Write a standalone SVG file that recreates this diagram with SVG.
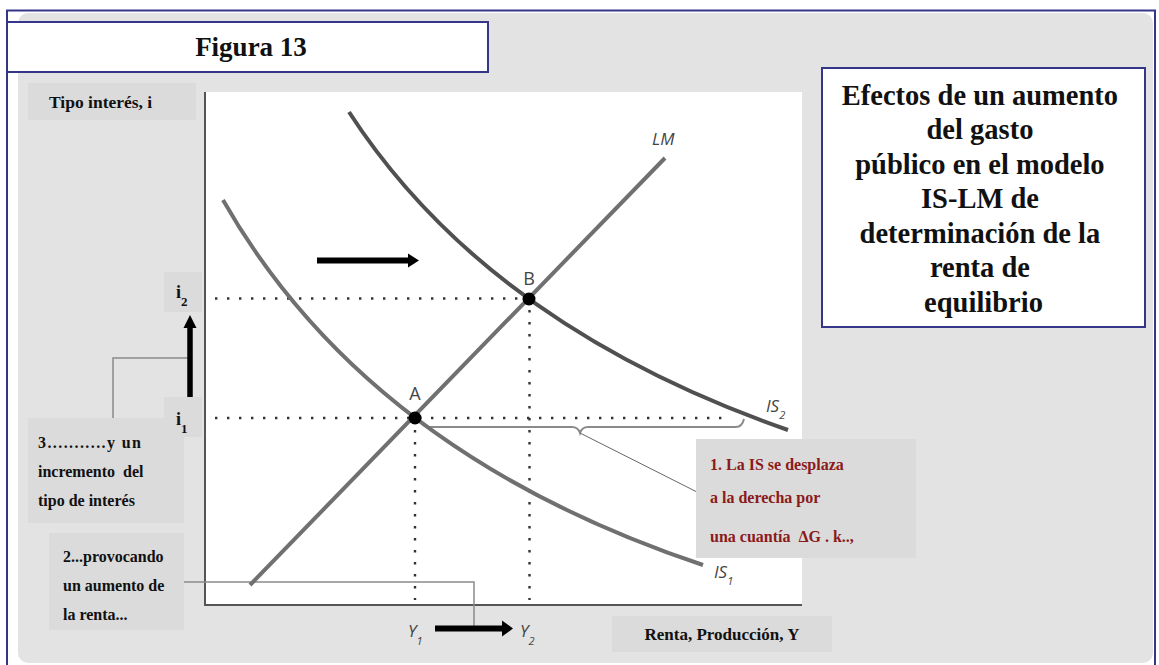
<svg xmlns="http://www.w3.org/2000/svg" width="1159" height="665" viewBox="0 0 1159 665">
<defs>
<style>
.serif{font-family:"Liberation Serif","Times New Roman",serif;font-weight:bold;fill:#111}
.lbl{font-size:16px}
.red{font-family:"Liberation Serif","Times New Roman",serif;font-weight:bold;font-size:16px;fill:#8b1a1a}
.sans{font-family:"Open Sans","Liberation Sans",sans-serif;fill:#444}
.it{font-style:italic}
.box{fill:#dbdbdb}
.curve{fill:none;stroke-width:4;stroke-linecap:butt}
.dot{fill:none;stroke:#333;stroke-width:2.4;stroke-dasharray:2.4 9.6}
.lead{fill:none;stroke:#8a8a8a;stroke-width:1.5}
</style>
</defs>
<rect x="0" y="0" width="1159" height="665" fill="#ffffff"/>
<rect x="18" y="13" width="1135" height="650" rx="10" fill="#e3e3e3"/>
<path d="M7,665 V10.5 H1155 V665" fill="none" stroke="#35358a" stroke-width="2"/>

<g id="title">
<rect x="7" y="22" width="481" height="50" fill="#ffffff" stroke="#35358a" stroke-width="2"/>
<text class="serif" x="251" y="56" font-size="27" text-anchor="middle">Figura 13</text>
</g>

<g id="yaxis-label">
<rect class="box" x="28" y="83" width="168" height="37"/>
<text class="serif" x="49" y="108" font-size="17.5">Tipo interés, i</text>
</g>

<g id="plot">
<rect x="205" y="92" width="597" height="513" fill="#ffffff"/>
<path d="M205,92 V605 H802" fill="none" stroke="#555" stroke-width="2"/>
</g>

<g id="heading">
<rect x="822" y="68" width="323" height="259" fill="#ffffff" stroke="#35358a" stroke-width="2"/>
<text class="serif" font-size="28.5" text-anchor="middle">
<tspan x="983.5" y="105">Efectos de un aumento</tspan>
<tspan x="983.5" y="139">del gasto</tspan>
<tspan x="983.5" y="174">público en el modelo</tspan>
<tspan x="983.5" y="208">IS-LM de</tspan>
<tspan x="983.5" y="243">determinación de la</tspan>
<tspan x="983.5" y="277">renta de</tspan>
<tspan x="983.5" y="312">equilibrio</tspan>
</text>
</g>

<g id="note-3">
<rect class="box" x="28" y="418" width="156" height="105"/>
<text class="serif lbl" xml:space="preserve"><tspan x="38" y="448" textLength="103" lengthAdjust="spacing">3...........y un</tspan><tspan x="38" y="477">incremento  del</tspan><tspan x="38" y="506">tipo de interés</tspan></text>
</g>

<g id="note-2">
<rect class="box" x="49" y="533" width="135" height="97"/>
<text class="serif lbl"><tspan x="63" y="562">2...provocando</tspan><tspan x="63" y="591">un aumento de</tspan><tspan x="63" y="620">la renta...</tspan></text>
</g>

<g id="i2">
<rect class="box" x="164" y="272" width="38" height="40"/>
<text class="serif" x="176" y="298" font-size="18">i<tspan font-size="13" dy="8">2</tspan></text>
</g>
<g id="i1">
<rect class="box" x="164" y="397" width="38" height="40"/>
<text class="serif" x="176" y="425" font-size="18">i<tspan font-size="13" dy="8">1</tspan></text>
</g>

<g id="connectors">
<path class="dot" d="M215,298.5 H522"/>
<path class="dot" d="M215,418 H730"/>
<path class="dot" d="M415,430 V600"/>
<path class="dot" d="M529.5,310 V600"/>
<path d="M420,420 Q422,427 430,427 H572 Q578,427 580,433 Q582,427 588,427 H736 Q742,427 744,419" fill="none" stroke="#8a8a8a" stroke-width="2"/>
<path d="M580,433 L697,492" fill="none" stroke="#666" stroke-width="1"/>
<path class="lead" d="M113,418 V358 H188"/>
<path class="lead" d="M184,582 H474 V626"/>
</g>

<g id="curves">
<path class="curve" stroke="#707070" d="M250,585 L665,158"/>
<path class="curve" stroke="#707070" d="M223,200 Q367,453 703,565"/>
<path class="curve" stroke="#505050" d="M349,112 Q487,325 788,430"/>
</g>

<g id="point-A">
<circle cx="415" cy="418" r="6.5" fill="#000"/>
<text class="sans" x="415" y="400" font-size="18" text-anchor="middle">A</text>
</g>
<g id="point-B">
<circle cx="529" cy="299" r="6.5" fill="#000"/>
<text class="sans" x="529" y="285" font-size="18" text-anchor="middle">B</text>
</g>

<g id="curve-labels">
<text class="sans it" x="652" y="145" font-size="17">LM</text>
<text class="sans it" x="766" y="412" font-size="17">IS<tspan font-size="11" dy="7">2</tspan></text>
<text class="sans it" x="714" y="578" font-size="17">IS<tspan font-size="11" dy="7">1</tspan></text>
<text class="sans it" x="408" y="637" font-size="17">Y<tspan font-size="11" dy="8">1</tspan></text>
<text class="sans it" x="520" y="637" font-size="17">Y<tspan font-size="11" dy="8">2</tspan></text>
</g>

<g id="arrows">
<path d="M317,260.5 H409" stroke="#000" stroke-width="6" fill="none"/>
<path d="M408,253.5 L419,260.5 L408,267.5 Z" fill="#000"/>
<path d="M190,397 V327" stroke="#000" stroke-width="5.5" fill="none"/>
<path d="M183.5,328 L190,315 L196.5,328 Z" fill="#000"/>
<path d="M435,628.5 H503" stroke="#000" stroke-width="6" fill="none"/>
<path d="M502,620.5 L513,628.5 L502,636.5 Z" fill="#000"/>
</g>

<g id="note-1">
<rect class="box" x="696" y="439" width="220" height="119"/>
<text class="red" xml:space="preserve"><tspan x="710" y="470">1. La IS se desplaza</tspan><tspan x="710" y="503">a la derecha por</tspan><tspan x="710" y="542">una cuantía  ΔG . k..,</tspan></text>
</g>

<g id="xaxis-label">
<rect class="box" x="612" y="616" width="220" height="36"/>
<text class="serif" x="722" y="640" font-size="17" text-anchor="middle">Renta, Producción, Y</text>
</g>
</svg>
